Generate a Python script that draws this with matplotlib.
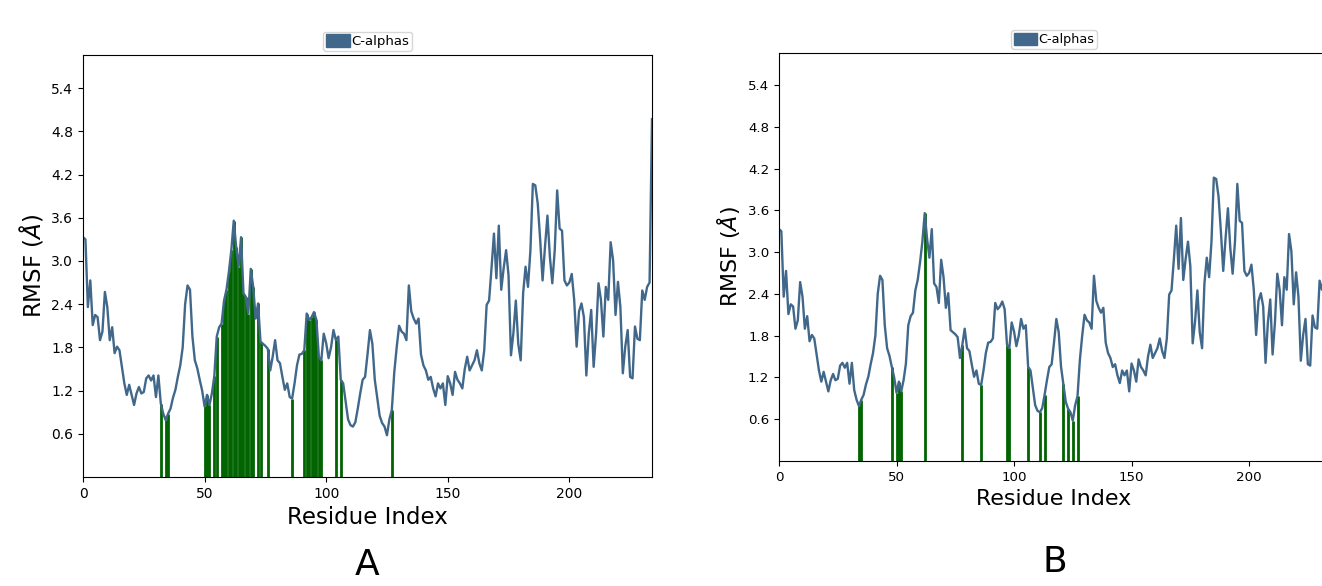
import numpy as np
import matplotlib
matplotlib.use('Agg')
import matplotlib.pyplot as plt
from matplotlib.patches import Patch

##################
## data (C-alpha RMSF per residue)
##################
rmsf = [3.33, 3.30, 2.36, 2.73, 2.11, 2.25, 2.22, 1.90, 2.02, 2.57,
        2.36, 1.90, 2.08, 1.72, 1.81, 1.76, 1.53, 1.30, 1.14, 1.28,
        1.14, 1.00, 1.16, 1.25, 1.16, 1.18, 1.37, 1.41, 1.34, 1.41,
        1.11, 1.41, 1.02, 0.88, 0.79, 0.88, 0.95, 1.10, 1.21, 1.39,
        1.55, 1.80, 2.40, 2.66, 2.60, 1.95, 1.62, 1.51, 1.35, 1.20,
        0.98, 1.14, 1.00, 1.16, 1.40, 1.95, 2.08, 2.13, 2.45, 2.60,
        2.85, 3.15, 3.56, 3.19, 2.92, 3.33, 2.55, 2.50, 2.27, 2.89,
        2.64, 2.20, 2.41, 1.88, 1.85, 1.82, 1.78, 1.48, 1.67, 1.90,
        1.62, 1.58, 1.39, 1.21, 1.30, 1.11, 1.09, 1.30, 1.55, 1.70,
        1.71, 1.76, 2.27, 2.18, 2.22, 2.29, 2.18, 1.67, 1.62, 1.99,
        1.86, 1.65, 1.80, 2.04, 1.90, 1.95, 1.35, 1.30, 1.05, 0.80,
        0.72, 0.70, 0.76, 0.95, 1.16, 1.35, 1.39, 1.70, 2.04, 1.85,
        1.35, 1.10, 0.85, 0.75, 0.70, 0.58, 0.80, 0.93, 1.45, 1.80,
        2.10, 2.02, 1.99, 1.90, 2.66, 2.30, 2.20, 2.13, 2.20, 1.70,
        1.55, 1.48, 1.35, 1.39, 1.23, 1.12, 1.30, 1.23, 1.30, 1.00,
        1.40, 1.30, 1.14, 1.46, 1.35, 1.30, 1.23, 1.50, 1.67, 1.48,
        1.55, 1.62, 1.76, 1.58, 1.48, 1.76, 2.39, 2.45, 2.90, 3.38,
        2.76, 3.49, 2.60, 2.90, 3.15, 2.80, 1.69, 2.00, 2.45, 1.85,
        1.62, 2.55, 2.92, 2.64, 3.15, 4.07, 4.05, 3.80, 3.30, 2.73,
        3.20, 3.63, 3.06, 2.69, 3.15, 3.98, 3.45, 3.42, 2.73, 2.66,
        2.70, 2.82, 2.46, 1.81, 2.30, 2.41, 2.22, 1.41, 1.99, 2.32,
        1.53, 1.99, 2.69, 2.46, 1.95, 2.64, 2.46, 3.26, 3.01, 2.25,
        2.71, 2.36, 1.44, 1.81, 2.04, 1.39, 1.37, 2.09, 1.92, 1.90,
        2.59, 2.46, 2.64, 2.70, 4.97]

# residues in contact with the ligand (green bars)
contacts_a = [32, 34, 35, 50, 51, 52, 54, 55, 57, 58, 59, 60, 61, 62, 63,
              64, 65, 66, 67, 68, 69, 70, 72, 73, 76, 86, 91, 92, 93, 94,
              95, 96, 97, 98, 104, 106, 127]
contacts_b = [34, 35, 48, 50, 51, 52, 62, 78, 86, 97, 98, 106, 111, 113,
              121, 123, 125, 127]

panel_labels = ['A', 'B']
x_ticks = [0, 50, 100, 150, 200]
y_ticks = [0.6, 1.2, 1.8, 2.4, 3.0, 3.6, 4.2, 4.8, 5.4]

line_color = '#41688a'
green = '#006400'

residues = np.arange(len(rmsf))
rmsf = np.array(rmsf)

fig = plt.figure(figsize=(13.22, 5.86), dpi=100)

# panel B is a bit smaller and runs off the right edge, like the original
ax_a = fig.add_axes([83/1322, 1-477/586, 569/1322, 422/586])
ax_b = fig.add_axes([779/1322, 1-461/586, 550/1322, 408/586])

for ax, contacts, scale in [(ax_a, contacts_a, 1.0), (ax_b, contacts_b, 0.967)]:
    ax.vlines(contacts, 0, rmsf[contacts], color=green, lw=2.0, zorder=1)
    ax.plot(residues, rmsf, color=line_color, lw=1.7, zorder=2)
    ax.set_xlim(0, len(rmsf) - 1)
    ax.set_ylim(0, 5.86)
    ax.set_xticks(x_ticks)
    ax.set_yticks(y_ticks)
    ax.tick_params(labelsize=10*scale)
    ax.set_xlabel('Residue Index', fontsize=16.5*scale)
    ax.set_ylabel(r'RMSF ($\AA$)', fontsize=16.5*scale)
    ax.legend(handles=[Patch(color=line_color, label='C-alphas')],
              loc='lower center', bbox_to_anchor=(0.5, 1.01), borderaxespad=0,
              fontsize=9.5*scale, handlelength=1.8, handleheight=1.1,
              borderpad=0.2, handletextpad=0.1, fancybox=True)

fig.text(367/1322, 1-565/586, panel_labels[0], fontsize=26, ha='center', va='center')
fig.text(1055/1322, 1-562/586, panel_labels[1], fontsize=26, ha='center', va='center')

fig.savefig('out.png', dpi=100)
